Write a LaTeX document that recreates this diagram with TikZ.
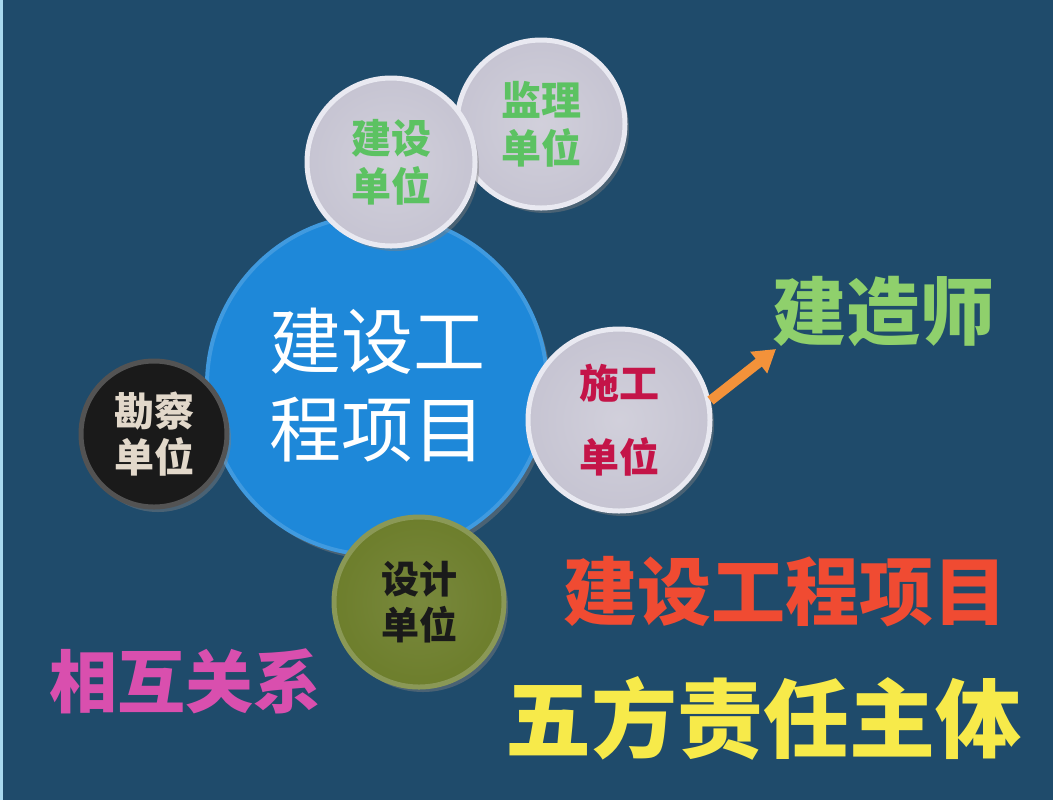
\documentclass[tikz,border=0pt]{standalone}
\usepackage{fontspec}
\newfontfamily\cjk{Noto Sans CJK SC}
\usetikzlibrary{shadows,arrows.meta}
\definecolor{bgblue}{HTML}{1F4B6B}
\definecolor{bigblue}{HTML}{1E88D9}
\definecolor{disc}{HTML}{C6C4D2}
\definecolor{discrim}{HTML}{E9E9F1}
\definecolor{txtgreen}{HTML}{5CC262}
\definecolor{txtcrimson}{HTML}{C41448}
\definecolor{kblack}{HTML}{1A1A1A}
\definecolor{kbeige}{HTML}{E2D8CA}
\definecolor{olive}{HTML}{6D7E2C}
\definecolor{jzgreen}{HTML}{8FD06C}
\definecolor{hred}{HTML}{F04B32}
\definecolor{hyellow}{HTML}{F7EA4A}
\definecolor{hmagenta}{HTML}{D94FAE}
\definecolor{harrow}{HTML}{F3923A}
\definecolor{edgecyan}{HTML}{A8D8EE}
\tikzset{
  discnode/.style={circle, inner sep=0pt, align=center, line width=2.5pt,
    drop shadow={opacity=0.45, shadow xshift=2pt, shadow yshift=-2.5pt},
    font=\cjk\bfseries\fontsize{20}{24}\selectfont},
  graydisc/.style={discnode, draw=discrim, shading=radial, inner color=disc!80!white, outer color=disc},
  headline/.style={font=\cjk\bfseries\fontsize{#1}{#1}\selectfont, inner sep=0pt},
  orangearrow/.style={draw=harrow, line width=5pt, -{Triangle[width=13pt,length=11pt]}}
}
\begin{document}
\begin{tikzpicture}[x=0.5pt,y=-0.5pt]
\fill[bgblue] (0,0) rectangle (1053,800);
\fill[edgecyan] (0,0) rectangle (3,800);
\useasboundingbox (0,0) rectangle (1053,800);

% central circle
\node[discnode, minimum size=340*0.5pt, fill=bigblue, draw=bigblue!85!white, line width=2pt,
      text=white, font=\cjk\fontsize{36}{44}\selectfont] (core) at (377,385) {建设工\\程项目};

% satellites
\node[graydisc, minimum size=168*0.5pt, text=txtgreen] (jianli) at (541,124) {监理\\单位};
\node[graydisc, minimum size=168*0.5pt, text=txtgreen] (jianshe) at (391,162) {建设\\单位};
\node[graydisc, minimum size=182*0.5pt, text=txtcrimson, font=\cjk\bfseries\fontsize{20}{37}\selectfont] (shigong) at (619,420) {施工\\单位};
\node[discnode, minimum size=146*0.5pt, fill=kblack, draw=kblack!75!white, text=kbeige,
      font=\cjk\bfseries\fontsize{20}{23}\selectfont] (kancha) at (154,434) {勘察\\单位};
\node[discnode, minimum size=170*0.5pt, shading=radial, inner color=olive!92!white, outer color=olive,
      draw=olive!80!white, text=kblack, font=\cjk\bfseries\fontsize{19}{23}\selectfont] (sheji) at (419,602) {设计\\单位};

% headline texts
\node[headline=37, text=jzgreen] (jianzaoshi) at (883,312) {建造师};
\node[headline=37, text=hred] (xiangmu) at (785,592) {建设工程项目};
\node[headline=43, text=hyellow] (wufang) at (763,718) {五方责任主体};
\node[headline=34, text=hmagenta] (guanxi) at (185,681) {相互关系};

% arrow
\coordinate (tip) at (776,349);
\draw[orangearrow] (shigong.12) -- (tip);
\end{tikzpicture}
\end{document}
